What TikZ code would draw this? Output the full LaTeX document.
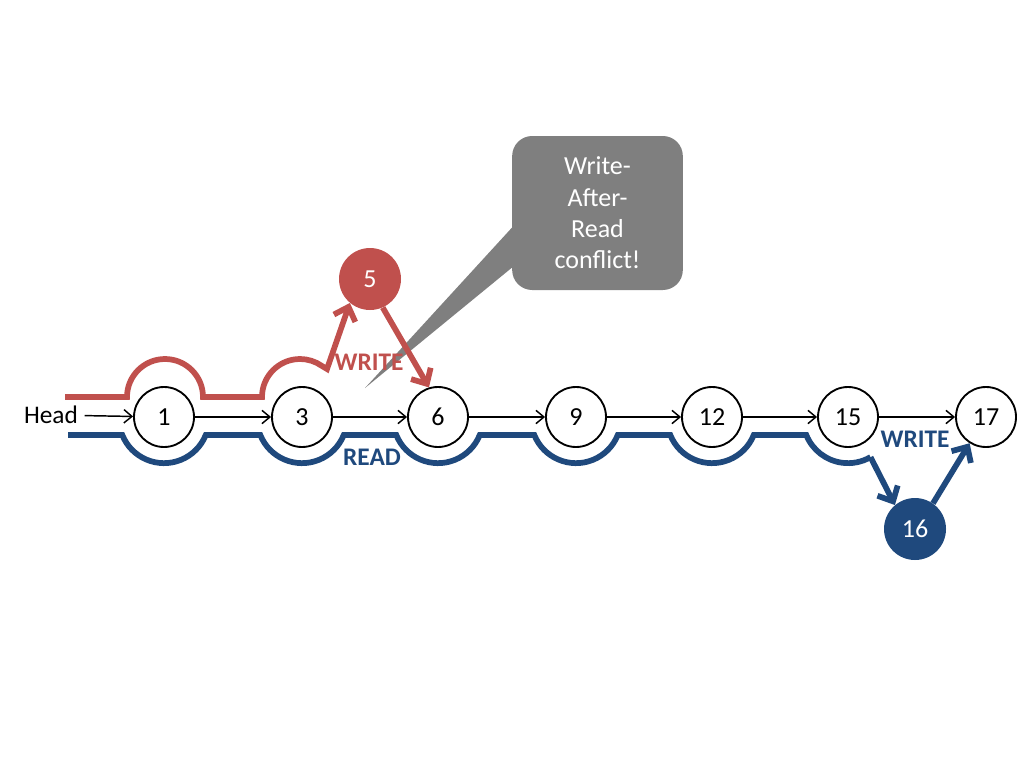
\documentclass[tikz,border=0pt]{standalone}
\usepackage{fontspec}
\setmainfont{Carlito}
\usetikzlibrary{arrows.meta}
\definecolor{wred}{RGB}{192,80,77}
\definecolor{rblue}{RGB}{31,73,125}
\definecolor{cgray}{RGB}{127,127,127}
\begin{document}
\begin{tikzpicture}[x=0.75pt,y=-0.75pt,
  elem/.style={circle,draw=black,line width=1.4pt,fill=white,minimum size=45pt,inner sep=0pt,font=\fontsize{19.5}{22}\selectfont},
  newred/.style={circle,fill=wred,minimum size=46.5pt,inner sep=0pt,text=white,font=\fontsize{19.5}{22}\selectfont},
  newblue/.style={circle,fill=rblue,minimum size=46.5pt,inner sep=0pt,text=white,font=\fontsize{19.5}{22}\selectfont},
  link/.style={line width=1.1pt,-{Straight Barb[length=6pt,width=10pt,line width=1.1pt]}},
  redpath/.style={draw=wred,line width=4.3pt},
  bluepath/.style={draw=rblue,line width=4.3pt},
  bigtip/.style={-{Straight Barb[length=9pt,width=17pt,line cap=butt]}},
  lbl/.style={font=\bfseries\fontsize{19}{22}\selectfont,inner sep=0pt},
  callout/.style={fill=cgray,rounded corners=15pt,minimum width=128pt,minimum height=115.5pt,text=white,align=center,font=\fontsize{19.5}{23.5}\selectfont}
]
\useasboundingbox (0,0) rectangle (1024,768);

% callout
\node[callout] (c) at (597.5,213) {Write-\\After-\\Read\\conflict!};
\coordinate (ctip) at (365,388);
\fill[cgray] ([yshift=-11pt]c.west) -- (ctip) -- ([yshift=-41pt]c.west) -- cycle;

% nodes
\node[elem] (n1) at (164,417) {1};
\node[elem] (n3) at (302,417) {3};
\node[elem] (n6) at (438,417) {6};
\node[elem] (n9) at (576,417) {9};
\node[elem] (n12) at (712,417) {12};
\node[elem] (n15) at (848,417) {15};
\node[elem] (n17) at (986,417) {17};
\node[newred] (n5) at (370,279) {5};
\node[newblue] (n16) at (915,529) {16};
\node[font=\fontsize{19}{22}\selectfont,inner sep=1pt,outer sep=4pt] (head) at (51,415) {Head};

% list links
\draw[link] (head) -- (n1);
\draw[link] (n1) -- (n3);
\draw[link] (n3) -- (n6);
\draw[link] (n6) -- (n9);
\draw[link] (n9) -- (n12);
\draw[link] (n12) -- (n15);
\draw[link] (n15) -- (n17);

% red write path
\draw[redpath,bigtip] (65,397) -- (127,397) arc[start angle=180,end angle=360,radius=38]
  -- (262,397) arc[start angle=180,end angle=305,radius=38]
  -- (327,369) -- (n5.230);
\draw[redpath,bigtip] (n5.294) -- (n6.107);

% blue read path
\draw[bluepath] (68,435) -- (122.3,435) arc[start angle=158,end angle=22,radius=45]
  -- (260.3,435) arc[start angle=158,end angle=22,radius=45]
  -- (396.3,435) arc[start angle=158,end angle=22,radius=45]
  -- (534.3,435) arc[start angle=158,end angle=22,radius=45]
  -- (670.3,435) arc[start angle=158,end angle=22,radius=45]
  -- (806.3,435) arc[start angle=158,end angle=60,radius=45]
  coordinate (bturn);
\draw[bluepath,bigtip] (bturn) -- (n16.130);
\draw[bluepath,bigtip] (n16.55) -- (n17.238);

% labels
\node[lbl,text=wred] (wr) at (369,362) {WRITE};
\node[lbl,text=rblue] (rd) at (372,457) {READ};
\node[lbl,text=rblue] (wb) at (915,439) {WRITE};
\end{tikzpicture}
\end{document}
